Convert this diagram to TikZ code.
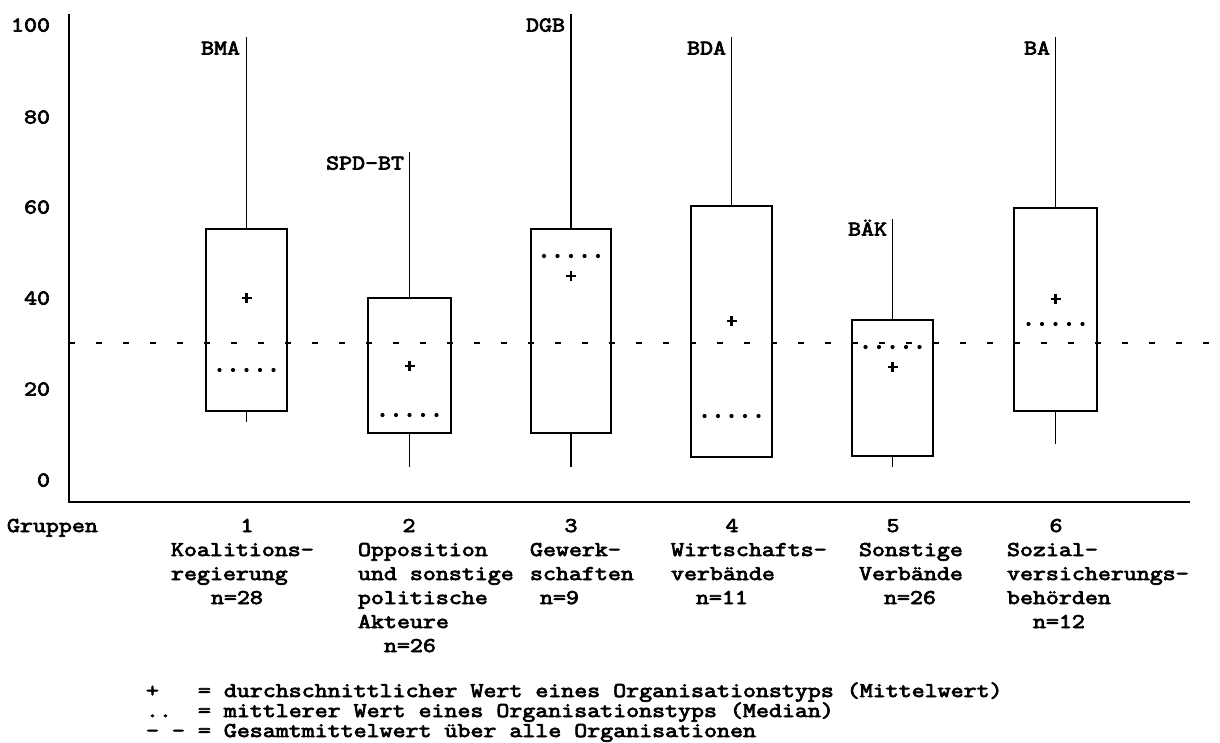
\documentclass[tikz,border=0pt]{standalone}
\usepackage{fontspec}
\newfontfamily\cour[FakeStretch=1.2,FakeBold=3.5]{Latin Modern Mono}
\tikzset{
  txt/.style={font=\cour\fontsize{21}{24}\selectfont, inner sep=0pt, outer sep=0pt},
  lbl/.style={txt, anchor=base west},
  ytick/.style={txt, anchor=base east},
  num/.style={txt, anchor=base},
  boxline/.style={draw, line width=1.8pt},
  whisk/.style={line width=1.3pt},
  axisline/.style={line width=2pt},
  meandash/.style={line width=2.2pt, dash pattern=on 6pt off 21pt},
  meanmark/.style={line width=2.4pt}
}
\newcommand\mybplot[8]{% xl xr top bot wtop wbot mean med
  \draw[boxline] (#1,#3) rectangle (#2,#4);
  \draw[whisk] ({(#1+#2)/2},#3) -- ({(#1+#2)/2},#5);
  \draw[whisk] ({(#1+#2)/2},#4) -- ({(#1+#2)/2},#6);
  \draw[meanmark] ({(#1+#2)/2-5},#7) -- ({(#1+#2)/2+5},#7)
                  ({(#1+#2)/2},#7-5) -- ({(#1+#2)/2},#7+5);
  \foreach \i in {-2,...,2} \fill ({(#1+#2)/2+13.5*\i},#8) circle (2.1);
}
\begin{document}
\begin{tikzpicture}[x=1pt,y=-1pt]
\useasboundingbox (0,0) rectangle (1220,742);
% axes
\draw[axisline] (69,14) -- (69,502) -- (1190,502);
% overall mean
\draw[meandash] (69,343) -- (1220,343);
% y labels
\node[ytick] (y100) at (50,31.5) {100};
\node[ytick] (y80) at (50,123.5) {80};
\node[ytick] (y60) at (50,213.5) {60};
\node[ytick] (y40) at (50,304.5) {40};
\node[ytick] (y20) at (50,395.5) {20};
\node[ytick] (y0) at (50,486.5) {0};
% boxes
\mybplot{206}{287}{229}{411}{37}{422}{298}{370}
\mybplot{368}{451}{298}{433}{152}{467}{366}{415}
\mybplot{531}{611}{229}{433}{14}{467}{276}{256}
\mybplot{691}{772}{206}{457}{37}{457}{321}{416}
\mybplot{852}{933}{320}{456}{219}{467}{367}{347}
\mybplot{1014}{1097}{208}{411}{37}{444}{299}{324}
% outlier labels
\node[ytick] (bma) at (240,54.5) {BMA};
\node[ytick] (spd) at (404,169.5) {SPD-BT};
\node[ytick] (dgb) at (565,31.5) {DGB};
\node[ytick] (bda) at (726,54.5) {BDA};
\node[ytick] (baek) at (887,235.5) {BÄK};
\node[ytick] (ba) at (1050,54.5) {BA};
% group labels
\node[lbl] (grp) at (7,532) {Gruppen};
\node[num] (n1) at (247,532) {1};
\node[num] (n2) at (409,532) {2};
\node[num] (n3) at (571,532) {3};
\node[num] (n4) at (732,532) {4};
\node[num] (n5) at (893,532) {5};
\node[num] (n6) at (1056,532) {6};
% group 1
\node[lbl] (g1a) at (171,556) {Koalitions-};
\node[lbl] (g1b) at (171,580) {regierung};
\node[lbl] (g1c) at (211,604) {n=28};
% group 2
\node[lbl] (g2a) at (358,556) {Opposition};
\node[lbl] (g2b) at (358,580) {und sonstige};
\node[lbl] (g2c) at (358,604) {politische};
\node[lbl] (g2d) at (358,628) {Akteure};
\node[lbl] (g2e) at (384,652) {n=26};
% group 3
\node[lbl] (g3a) at (530,556) {Gewerk-};
\node[lbl] (g3b) at (530,580) {schaften};
\node[lbl] (g3c) at (540,604) {n=9};
% group 4
\node[lbl] (g4a) at (671,556) {Wirtschafts-};
\node[lbl] (g4b) at (671,580) {verbände};
\node[lbl] (g4c) at (696,604) {n=11};
% group 5
\node[lbl] (g5a) at (859,556) {Sonstige};
\node[lbl] (g5b) at (859,580) {Verbände};
\node[lbl] (g5c) at (884,604) {n=26};
% group 6
\node[lbl] (g6a) at (1007,556) {Sozial-};
\node[lbl] (g6b) at (1007,580) {versicherungs-};
\node[lbl] (g6c) at (1007,604) {behörden};
\node[lbl] (g6d) at (1033,628) {n=12};
% legend
\node[lbl] (leg1) at (146,697) {+\ \ \ =\ durchschnittlicher Wert eines Organisationstyps (Mittelwert)};
\node[lbl] (leg2) at (146,717) {..\ \ =\ mittlerer Wert eines Organisationstyps (Median)};
\node[lbl] (leg3) at (146,737) {-\ -\ =\ Gesamtmittelwert über alle Organisationen};
\end{tikzpicture}
\end{document}
